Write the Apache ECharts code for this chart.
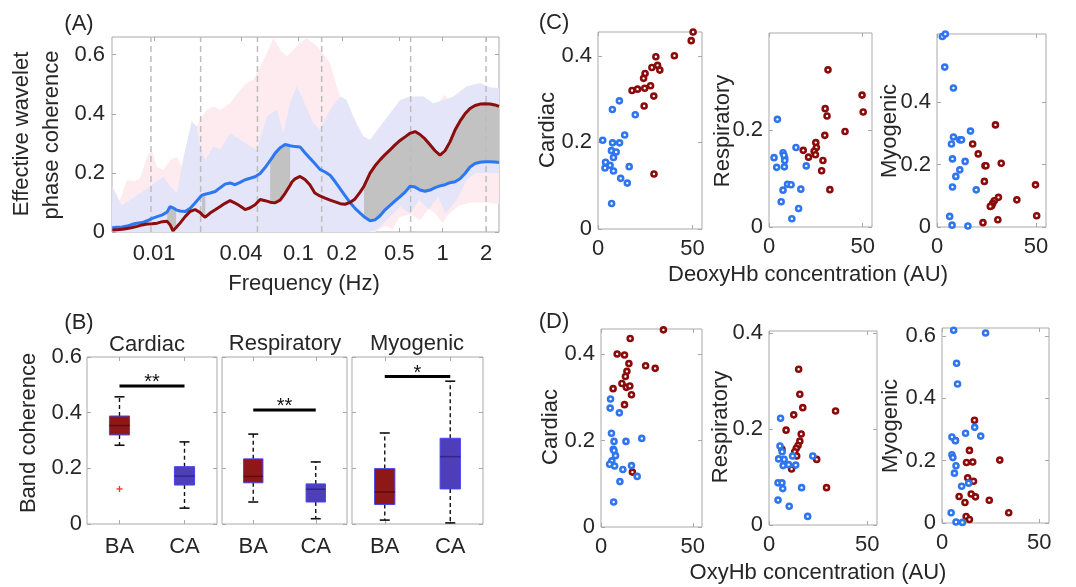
<!DOCTYPE html>
<html><head><meta charset="utf-8">
<script src="https://cdn.jsdelivr.net/npm/echarts@6/dist/echarts.min.js"></script>
<style>html,body{margin:0;padding:0;background:#fff}#c{width:1076px;height:587px}</style>
</head><body><div id="c"></div>
<script>
// ---------------- Panel A data ----------------
const freqTicks = [0.01, 0.04, 0.1, 0.2, 0.5, 1, 2];
const bandEdges = [0.0095, 0.021, 0.052, 0.145, 0.6, 2];
const freqA = [0.00512,0.00554,0.00600,0.00650,0.00704,0.00762,0.00826,0.00894,0.00969,0.0105,
0.0114,0.0123,0.0129,0.0135,0.0142,0.0151,0.0164,0.0178,0.0192,0.0208,
0.0215,0.0226,0.0244,0.0265,0.0287,0.0310,0.0336,0.0364,0.0394,0.0427,
0.0463,0.0501,0.0543,0.0588,0.0637,0.0658,0.0690,0.0747,0.0809,0.0876,
0.0904,0.0948,0.1027,0.111,0.120,0.130,0.141,0.153,0.166,0.180,
0.195,0.211,0.228,0.247,0.268,0.285,0.314,0.340,0.368,0.399,
0.432,0.468,0.507,0.549,0.594,0.644,0.697,0.755,0.818,0.886,
0.959,1.039,1.125,1.219,1.320,1.430,1.549,1.678,1.817,1.968,
2.131,2.308,2.459];
const caMedian = [0.014,0.016,0.017,0.020,0.026,0.030,0.032,0.038,0.046,0.052,
0.058,0.068,0.086,0.082,0.075,0.071,0.069,0.080,0.098,0.118,
0.125,0.128,0.132,0.137,0.150,0.162,0.166,0.160,0.168,0.177,
0.182,0.187,0.198,0.218,0.242,0.252,0.267,0.285,0.296,0.292,
0.291,0.289,0.288,0.268,0.250,0.232,0.212,0.203,0.192,0.170,
0.146,0.122,0.100,0.080,0.064,0.052,0.038,0.041,0.055,0.075,
0.090,0.105,0.120,0.135,0.155,0.152,0.142,0.138,0.142,0.150,
0.156,0.160,0.167,0.170,0.180,0.198,0.220,0.232,0.236,0.238,
0.238,0.237,0.235];
const baMedian = [0.007,0.008,0.009,0.012,0.015,0.019,0.024,0.027,0.028,0.030,
0.035,0.036,0.024,0.004,0.015,0.030,0.052,0.070,0.076,0.066,
0.058,0.050,0.064,0.075,0.086,0.097,0.106,0.098,0.088,0.076,
0.082,0.092,0.110,0.106,0.101,0.100,0.099,0.108,0.131,0.158,
0.170,0.180,0.188,0.178,0.160,0.132,0.122,0.115,0.108,0.102,
0.096,0.094,0.100,0.112,0.135,0.155,0.199,0.224,0.244,0.262,
0.278,0.295,0.310,0.322,0.334,0.340,0.330,0.315,0.295,0.275,
0.260,0.275,0.305,0.345,0.375,0.400,0.418,0.428,0.433,0.434,
0.433,0.430,0.425];
const sigRanges = [[0.0122,0.0143],[0.0214,0.0227],[0.0637,0.0877],[0.285,2.46]];
// interquartile envelopes
const caUpperF = [0.00512,0.00597,0.00682,0.0080,0.00938,0.0104,0.0116,0.0129,0.0144,0.0160,0.0182,0.0198,0.0208,0.0226,0.0257,0.0287,0.0336,0.0394,0.0463,0.0515,0.0604,0.0708,0.0787,0.0875,0.0973,0.108,0.127,0.141,0.166,0.195,0.216,0.240,0.282,0.314,0.368,0.432,0.507,0.594,0.735,0.861,1.01,1.19,1.47,1.82,2.13,2.46];
const caUpper = [0.155,0.09,0.108,0.131,0.154,0.171,0.188,0.154,0.131,0.255,0.374,0.357,0.289,0.244,0.289,0.278,0.334,0.312,0.289,0.278,0.391,0.414,0.334,0.436,0.493,0.447,0.368,0.346,0.414,0.459,0.447,0.391,0.323,0.312,0.357,0.402,0.447,0.459,0.459,0.436,0.447,0.459,0.493,0.504,0.49,0.487];
const caLowerF = [0.00512,0.30,0.335,0.368,0.432,0.507,0.594,0.69,0.80,0.93,1.05,1.25,1.47,1.7,2.0,2.46];
const caLower = [0,0,0.005,0.018,0.052,0.086,0.063,0.108,0.075,0.12,0.063,0.108,0.176,0.2,0.2,0.2];
const baUpperF = [0.00512,0.0058,0.00647,0.0072,0.0080,0.0089,0.00964,0.0104,0.0116,0.0129,0.0144,0.01556,0.01687,0.01874,0.0208,0.0232,0.0257,0.0287,0.0336,0.0394,0.0439,0.0488,0.0543,0.0604,0.0671,0.0747,0.083,0.0923,0.103,0.114,0.127,0.141,0.166,0.1845,0.205,0.228,0.27,0.32,0.4,0.5,0.6,0.8,0.95,1.03,1.12,1.4,1.8,2.46];
const baUpper = [0.10,0.108,0.176,0.171,0.182,0.255,0.278,0.221,0.21,0.244,0.255,0.221,0.30,0.334,0.38,0.414,0.425,0.414,0.436,0.481,0.504,0.515,0.56,0.605,0.656,0.617,0.594,0.617,0.64,0.656,0.64,0.617,0.572,0.493,0.425,0.385,0.33,0.30,0.32,0.37,0.40,0.42,0.44,0.465,0.44,0.43,0.45,0.46];
const baLowerF = [0.00512,0.30,0.34,0.37,0.40,0.45,0.5,0.6,0.7,0.8,0.9,1.0,1.1,1.3,1.6,2.0,2.46];
const baLower = [0,0,0,0.01,0.02,0.01,0.05,0.06,0.04,0.08,0.06,0.03,0.06,0.09,0.10,0.10,0.095];

// ---------------- Panel B data ----------------
const bandNames = ['Cardiac','Respiratory','Myogenic'];
const groupNames = ['BA','CA'];
// [min, Q1, median, Q3, max]
const boxBA = [[0.283,0.320,0.354,0.388,0.457],[0.079,0.148,0.171,0.234,0.323],[0.014,0.070,0.115,0.199,0.327]];
const boxCA = [[0.057,0.140,0.172,0.206,0.295],[0.019,0.079,0.125,0.144,0.223],[0.004,0.126,0.242,0.308,0.513]];
const outliersBA = [[0.126],[],[]];
const sigLevel = [0.496, 0.410, 0.530];
const sigMark = ['**','**','*'];
const bandTicks = [0, 0.2, 0.4, 0.6];

// ---------------- Panels C & D data ----------------
const concTicks = [0, 50];
const deoxyCardiacBA = [[50.3,0.455],[49.3,0.435],[40.4,0.400],[30.6,0.398],[28.5,0.373],[31.5,0.378],[32.7,0.367],[24.9,0.359],[24.1,0.348],[18.0,0.320],[20.9,0.323],[24.7,0.325],[27.8,0.331],[29.5,0.307],[24.4,0.284],[29.6,0.127]];
const deoxyCardiacCA = [[11.3,0.296],[7.6,0.276],[19.7,0.264],[14.1,0.217],[2.5,0.205],[7.7,0.199],[11.4,0.199],[7.1,0.181],[9.6,0.178],[8.2,0.165],[4.0,0.154],[3.7,0.141],[6.4,0.147],[8.2,0.134],[16.5,0.144],[12.0,0.117],[15.5,0.106],[7.2,0.059]];
const deoxyRespBA = [[31.5,0.324],[49.7,0.272],[50.3,0.237],[30.0,0.244],[31.0,0.229],[40.6,0.197],[29.8,0.189],[25.0,0.174],[25.3,0.164],[24.1,0.156],[24.8,0.149],[18.3,0.158],[21.1,0.144],[28.8,0.137],[28.1,0.116],[32.5,0.077]];
const deoxyRespCA = [[4.5,0.222],[14.4,0.164],[7.5,0.153],[2.7,0.143],[8.4,0.142],[8.4,0.137],[4.1,0.123],[8.2,0.124],[19.9,0.126],[9.9,0.088],[11.8,0.087],[7.5,0.076],[17.0,0.078],[6.5,0.052],[15.8,0.038],[12.2,0.017],[8.0,0.148]];
const deoxyMyoBA = [[29.5,0.327],[18.0,0.266],[20.8,0.234],[24.2,0.196],[24.7,0.196],[32.4,0.204],[23.9,0.146],[23.2,0.014],[31.0,0.095],[28.9,0.084],[28.1,0.076],[27.6,0.068],[26.9,0.066],[40.3,0.087],[49.7,0.135],[50.3,0.036],[30.7,0.023]];
const deoxyMyoCA = [[2.7,0.610],[4.2,0.618],[3.9,0.512],[8.3,0.445],[16.9,0.307],[8.3,0.288],[11.5,0.279],[12.4,0.279],[7.3,0.266],[7.8,0.218],[14.2,0.210],[11.5,0.183],[9.5,0.162],[7.8,0.128],[19.8,0.119],[6.4,0.034],[7.6,0.006],[15.6,0.003]];
const oxyCardiacBA = [[34.0,0.456],[15.9,0.436],[8.8,0.400],[12.8,0.398],[15.2,0.378],[24.3,0.373],[29.5,0.367],[14.1,0.360],[13.3,0.348],[11.4,0.332],[13.8,0.323],[15.7,0.326],[6.6,0.320],[16.6,0.306],[12.8,0.283],[17.1,0.127]];
const oxyCardiacCA = [[5.2,0.296],[5.0,0.275],[10.0,0.264],[5.7,0.217],[7.1,0.198],[13.6,0.198],[22.2,0.205],[6.7,0.180],[7.1,0.177],[7.9,0.165],[5.9,0.153],[4.7,0.145],[7.4,0.141],[11.9,0.133],[16.6,0.142],[19.7,0.117],[10.3,0.105],[6.9,0.058]];
const oxyRespBA = [[15.1,0.325],[15.7,0.273],[17.2,0.245],[12.6,0.230],[33.9,0.238],[8.7,0.198],[16.4,0.190],[15.7,0.175],[14.8,0.166],[13.9,0.160],[13.1,0.153],[14.1,0.144],[24.3,0.137],[11.5,0.117],[29.3,0.078],[6.6,0.158]];
const oxyRespCA = [[5.9,0.223],[5.6,0.165],[6.7,0.153],[4.9,0.138],[7.7,0.137],[12.0,0.144],[22.3,0.144],[7.2,0.124],[10.0,0.126],[13.6,0.125],[4.6,0.088],[6.6,0.088],[7.0,0.076],[16.6,0.078],[4.6,0.052],[10.3,0.039],[19.7,0.018]];
const oxyMyoBA = [[16.7,0.330],[6.9,0.265],[14.1,0.233],[12.6,0.194],[15.8,0.196],[29.7,0.202],[13.2,0.145],[16.2,0.134],[8.8,0.085],[15.0,0.093],[17.2,0.084],[11.8,0.066],[24.3,0.073],[34.3,0.033],[12.4,0.021],[14.1,0.011]];
const oxyMyoCA = [[6.0,0.619],[22.4,0.610],[7.5,0.513],[8.0,0.446],[16.8,0.307],[19.9,0.279],[12.1,0.288],[5.1,0.276],[6.9,0.264],[5.1,0.219],[5.6,0.210],[7.2,0.184],[6.4,0.160],[10.1,0.118],[13.7,0.128],[4.7,0.033],[7.2,0.003],[10.5,0.002]];

// ---------------- styling ----------------
const FONT = '"Liberation Sans", Arial, Helvetica, sans-serif';
const FS = 22;
const TXT = '#262626';
const FRAME = '#a9a9a9';
const RED = '#8b0d0d';
const BLUE = '#2e77f2';
const SCAT_RED = '#8b0a0a';
const SCAT_BLUE = '#2f76ee';
const BOXFILL = ['#8e1717', '#4e3fb9'];
const BOXMED = ['#5e0c0c', '#30268a'];

const grids = [], xAxes = [], yAxes = [], series = [];

function mkAxis(gi, pos, spec, showLabel, margin) {
  const a = {
    gridIndex: gi, position: pos, type: spec.type || 'value',
    axisLine: {show: false, onZero: false}, splitLine: {show: false},
    axisTick: {show: true, inside: true, length: 4, lineStyle: {color: FRAME, width: 1}},
    axisLabel: {show: showLabel, color: TXT, fontFamily: FONT, fontSize: FS, margin: margin}
  };
  if (a.type === 'category') {
    a.data = spec.data; a.boundaryGap = true; a.axisTick.alignWithLabel = true;
  } else {
    a.min = spec.min; a.max = spec.max;
    a.axisTick.customValues = spec.ticks; a.axisLabel.customValues = spec.ticks;
    if (spec.fmt) a.axisLabel.formatter = spec.fmt;
  }
  return a;
}
function addGrid(rect, xs, ys, showY, xm, ym) {
  const gi = grids.length;
  grids.push(Object.assign({show: true, borderColor: FRAME, borderWidth: 1, backgroundColor: 'rgba(0,0,0,0)'}, rect));
  xAxes.push(mkAxis(gi, 'bottom', xs, true, xm));
  xAxes.push(mkAxis(gi, 'top', xs, false, 0));
  yAxes.push(mkAxis(gi, 'left', ys, showY, ym));
  yAxes.push(mkAxis(gi, 'right', ys, false, 0));
  return gi;
}

// ---------------- Panel A ----------------
const LX = Math.log10;
const aMaxY = 0.66;
const gA = addGrid({left: 112, top: 37, width: 387, height: 195},
  {min: LX(0.0051), max: LX(2.46), ticks: freqTicks.map(LX), fmt: v => String(+Math.pow(10, v).toPrecision(2))},
  {min: 0, max: aMaxY, ticks: [0, 0.2, 0.4, 0.6]}, true, 11, 7);

function bandPolygon(gi, upF, up, loF, lo, fill, z) {
  return {type: 'custom', xAxisIndex: 2 * gi, yAxisIndex: 2 * gi, z: z, silent: true, clip: true,
    data: [[LX(upF[0]), up[0]]],
    renderItem: (p, api) => {
      const pts = up.map((v, i) => api.coord([LX(upF[i]), v]));
      for (let i = lo.length - 1; i >= 0; i--) pts.push(api.coord([LX(loF[i]), lo[i]]));
      return {type: 'polygon', shape: {points: pts}, style: {fill: fill}};
    }};
}
series.push(bandPolygon(gA, baUpperF, baUpper, baLowerF, baLower, '#fdebf0', 1));
series.push(bandPolygon(gA, caUpperF, caUpper, caLowerF, caLower, '#e4e5f8', 2));

// grey significance fills between the two median curves
series.push({type: 'custom', xAxisIndex: 0, yAxisIndex: 0, z: 3, silent: true, clip: true,
  data: sigRanges.map(r => [LX(r[0]), LX(r[1])]),
  renderItem: (p, api) => {
    const r = sigRanges[p.dataIndex];
    const idx = freqA.map((f, i) => i).filter(i => freqA[i] >= r[0] && freqA[i] <= r[1]);
    const pts = idx.map(i => api.coord([LX(freqA[i]), caMedian[i]]));
    for (let k = idx.length - 1; k >= 0; k--) pts.push(api.coord([LX(freqA[idx[k]]), baMedian[idx[k]]]));
    return {type: 'polygon', shape: {points: pts}, style: {fill: '#c2c2c2'}};
  }});

// dashed band boundaries
series.push({type: 'custom', xAxisIndex: 0, yAxisIndex: 0, z: 4, silent: true,
  data: bandEdges.map(f => [LX(f), 0]),
  renderItem: (p, api) => {
    const a = api.coord([api.value(0), 0]), b = api.coord([api.value(0), aMaxY]);
    return {type: 'line', shape: {x1: a[0], y1: a[1], x2: b[0], y2: b[1]},
      style: {stroke: '#bdbdbd', lineWidth: 1.5, lineDash: [6, 4]}};
  }});

series.push({type: 'line', xAxisIndex: 0, yAxisIndex: 0, z: 6, silent: true, symbol: 'none',
  data: freqA.map((f, i) => [LX(f), caMedian[i]]), lineStyle: {color: BLUE, width: 3}});
series.push({type: 'line', xAxisIndex: 0, yAxisIndex: 0, z: 7, silent: true, symbol: 'none',
  data: freqA.map((f, i) => [LX(f), baMedian[i]]), lineStyle: {color: RED, width: 3}});

// ---------------- Panel B ----------------
const bRects = [{left: 87, top: 357, width: 130, height: 167}, {left: 222, top: 357, width: 125, height: 167}, {left: 352, top: 357, width: 131, height: 167}];
bRects.forEach((rect, b) => {
  const gi = addGrid(rect, {type: 'category', data: groupNames}, {min: 0, max: 0.6, ticks: bandTicks}, b === 0, 12, 5);
  series.push({type: 'custom', xAxisIndex: 2 * gi, yAxisIndex: 2 * gi, z: 5, silent: true,
    encode: {x: 0, y: [1, 2, 3, 4, 5]},
    data: [[0].concat(boxBA[b], [0]), [1].concat(boxCA[b], [1])],
    renderItem: (p, api) => {
      const c = api.value(0), g = api.value(6);
      const ys = [1, 2, 3, 4, 5].map(k => api.coord([c, api.value(k)])[1]);
      const x = api.coord([c, 0])[0];
      const w = api.size([1, 0])[0] * 0.31;
      const dash = {stroke: '#111', lineWidth: 1.4, lineDash: [4, 3]};
      const solid = {stroke: '#111', lineWidth: 1.6};
      return {type: 'group', children: [
        {type: 'line', shape: {x1: x, y1: ys[3], x2: x, y2: ys[4]}, style: dash},
        {type: 'line', shape: {x1: x, y1: ys[1], x2: x, y2: ys[0]}, style: dash},
        {type: 'line', shape: {x1: x - 5, y1: ys[4], x2: x + 5, y2: ys[4]}, style: solid},
        {type: 'line', shape: {x1: x - 5, y1: ys[0], x2: x + 5, y2: ys[0]}, style: solid},
        {type: 'rect', shape: {x: x - w / 2, y: ys[3], width: w, height: ys[1] - ys[3]}, style: {fill: BOXFILL[g], stroke: '#4545f2', lineWidth: 1}},
        {type: 'line', shape: {x1: x - w / 2, y1: ys[2], x2: x + w / 2, y2: ys[2]}, style: {stroke: BOXMED[g], lineWidth: 1.5}}
      ]};
    }});
  if (outliersBA[b].length) {
    series.push({type: 'custom', xAxisIndex: 2 * gi, yAxisIndex: 2 * gi, z: 6, silent: true,
      data: outliersBA[b].map(v => [0, v]),
      renderItem: (p, api) => {
        const pt = api.coord([api.value(0), api.value(1)]);
        const s = {stroke: '#ff2a2a', lineWidth: 1.3};
        return {type: 'group', children: [
          {type: 'line', shape: {x1: pt[0] - 3, y1: pt[1], x2: pt[0] + 3, y2: pt[1]}, style: s},
          {type: 'line', shape: {x1: pt[0], y1: pt[1] - 3, x2: pt[0], y2: pt[1] + 3}, style: s}]};
      }});
  }
  series.push({type: 'custom', xAxisIndex: 2 * gi, yAxisIndex: 2 * gi, z: 6, silent: true, clip: false,
    data: [[0, sigLevel[b]]],
    renderItem: (p, api) => {
      const a = api.coord([0, api.value(1)]), e = api.coord([1, api.value(1)]);
      return {type: 'group', children: [
        {type: 'line', shape: {x1: a[0], y1: a[1], x2: e[0], y2: e[1]}, style: {stroke: '#000', lineWidth: 3}},
        {type: 'text', x: (a[0] + e[0]) / 2, y: a[1] + 7,
          style: {text: sigMark[b], fill: '#111', font: '20px ' + FONT, align: 'center', verticalAlign: 'bottom', textAlign: 'center', textVerticalAlign: 'bottom'}}]};
    }});
});

// ---------------- Panels C & D ----------------
function scatterPanel(rect, ymax, yticks, baData, caData) {
  const gi = addGrid(rect, {min: 0, max: 55, ticks: concTicks}, {min: 0, max: ymax, ticks: yticks}, true, 9, 6);
  const mk = (data, col, z) => ({type: 'scatter', xAxisIndex: 2 * gi, yAxisIndex: 2 * gi, data: data, z: z, clip: false, silent: true,
    symbol: 'circle', symbolSize: 5, itemStyle: {color: '#ffffff', borderColor: col, borderWidth: 2.6, opacity: 1}});
  series.push(mk(baData, SCAT_RED, 5));
  series.push(mk(caData, SCAT_BLUE, 6));
}
scatterPanel({left: 598, top: 32, width: 104, height: 197}, 0.455, [0, 0.2, 0.4], deoxyCardiacBA, deoxyCardiacCA);
scatterPanel({left: 769, top: 33, width: 103, height: 194}, 0.40, [0, 0.2], deoxyRespBA, deoxyRespCA);
scatterPanel({left: 937, top: 34, width: 109, height: 193}, 0.618, [0, 0.2, 0.4], deoxyMyoBA, deoxyMyoCA);
scatterPanel({left: 601, top: 329, width: 101, height: 198}, 0.458, [0, 0.2, 0.4], oxyCardiacBA, oxyCardiacCA);
scatterPanel({left: 769, top: 331, width: 108, height: 194}, 0.405, [0, 0.2, 0.4], oxyRespBA, oxyRespCA);
scatterPanel({left: 942, top: 328, width: 107, height: 195}, 0.626, [0, 0.2, 0.4, 0.6], oxyMyoBA, oxyMyoCA);

// ---------------- texts ----------------
function txt(t, x, y, rot) {
  return {type: 'text', x: x, y: y, rotation: rot ? Math.PI / 2 : 0, z: 100,
    style: {text: t, fill: TXT, font: FS + 'px ' + FONT, align: 'center', verticalAlign: 'middle', textAlign: 'center', textVerticalAlign: 'middle'}};
}
const texts = [
  txt('(A)', 79, 24), txt('(B)', 79, 323), txt('(C)', 554, 23), txt('(D)', 554, 322),
  txt('Effective wavelet', 22, 134, true), txt('phase coherence', 52, 135, true),
  txt('Frequency (Hz)', 304, 284),
  txt('Band coherence', 29, 433, true),
  txt(bandNames[0], 147, 345), txt(bandNames[1], 285, 344), txt(bandNames[2], 417, 344),
  txt('Cardiac', 548, 130, true), txt('Respiratory', 723, 131, true), txt('Myogenic', 890, 131, true),
  txt('DeoxyHb concentration (AU)', 808, 275),
  txt('Cardiac', 551, 427, true), txt('Respiratory', 721, 427, true), txt('Myogenic', 891, 426, true),
  txt('OxyHb concentration (AU)', 818, 573)
];

const chart = echarts.init(document.getElementById('c'), null, {renderer: 'canvas'});
chart.setOption({
  animation: false,
  backgroundColor: '#ffffff',
  textStyle: {fontFamily: FONT},
  grid: grids, xAxis: xAxes, yAxis: yAxes, series: series,
  graphic: texts
});
</script>
</body></html>
